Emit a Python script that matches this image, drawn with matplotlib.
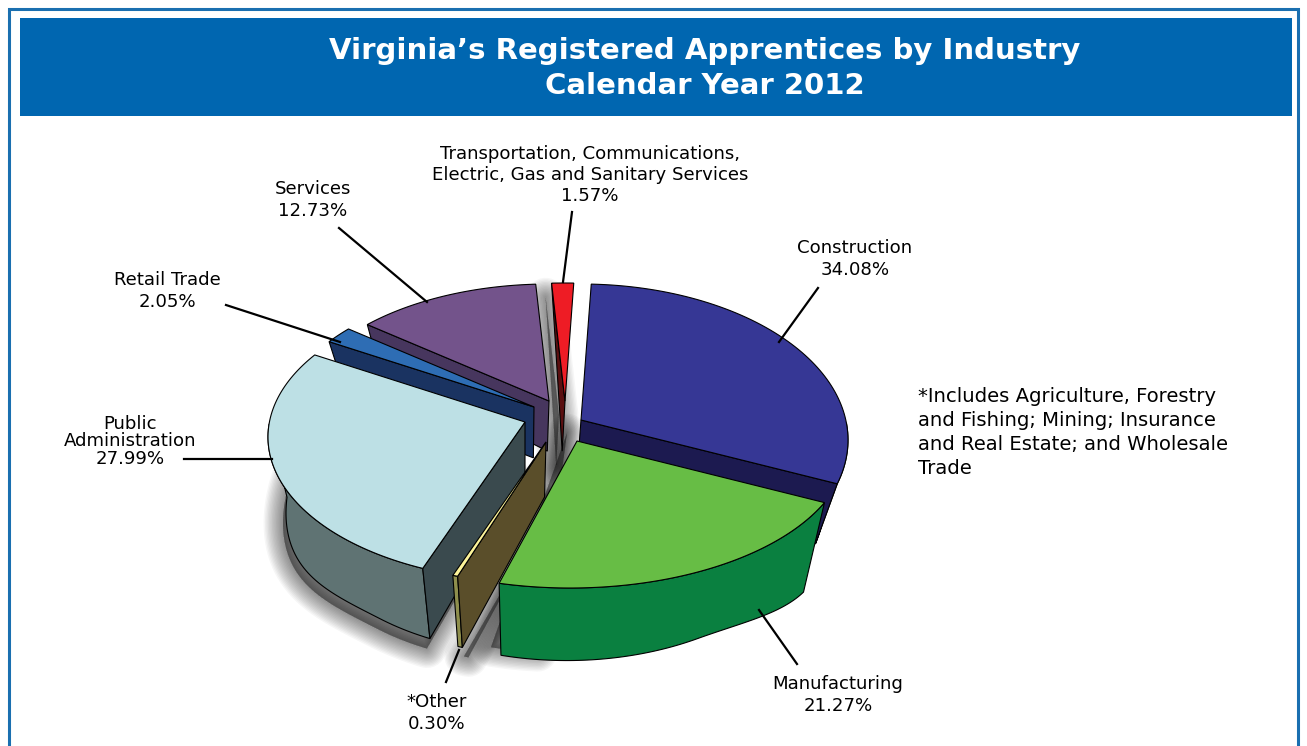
import numpy as np
import matplotlib
matplotlib.use('Agg')
import matplotlib.pyplot as plt
from matplotlib.patches import Polygon, Rectangle

industries = ['Construction', 'Manufacturing', '*Other', 'Public Administration', 'Retail Trade', 'Services',
              'Transportation, Communications,\nElectric, Gas and Sanitary Services']
shares = [34.08, 21.27, 0.30, 27.99, 2.05, 12.73, 1.57]

top_colors = ['#363795', '#67bd45', '#fdf49a', '#bde0e5', '#2e6db4', '#73538b', '#ee1c25']
side_colors = ['#1c1a50', '#0a8040', '#5a4e2a', '#3a4a4e', '#1a3361', '#47365e', '#5a0f10']
rim_colors = ['#8aa9a9', '#0a8040', '#8f8f4d', '#5f7373', '#1a3361', '#47365e', '#8a1015']

# where each exploded slice sits, relative to the pie centre (pixels)
center = (565, 420)
explode_x = [16, 12, -19, -40, -31, -16, 0]
explode_y = [0, 21, 22, 2, -13, -19, -19]
# rim ellipse of each slice: offset from its tip, then radii
ell_dx = [0, -7, 0, 5, 0, 0, 0]
ell_dy = [20, 4, 7, 15, 18, 19, 17]
ell_rx = [267, 278, 265, 262, 255, 255, 265]
ell_ry = [156, 143, 135, 144, 140, 136, 135]
flare = [0, 0.48, 0, 0.55, 0, 0, 0]
trim = [0, 3, 0, 0, 0, 0, 0]
side_edge = ['end', None, 'start', 'start', 'start', 'start', None]


def warp(theta):
    # the picture's perspective bends the angles a bit around two places
    d1 = (theta - 92 + 180) % 360 - 180
    d2 = (theta + 30 + 180) % 360 - 180
    return theta - 2.3 * np.exp(-(d1 / 25) ** 2) + 7.5 * np.exp(-(d2 / 38) ** 2)


def rim_point(i, tip, theta):
    t = np.radians(warp(theta))
    dx, dy = 265 * np.cos(t), -140 * np.sin(t)
    ax, ay = -ell_dx[i], -ell_dy[i]
    rx, ry = ell_rx[i], ell_ry[i]
    a = (dx / rx) ** 2 + (dy / ry) ** 2
    b = 2 * (ax * dx / rx ** 2 + ay * dy / ry ** 2)
    c = (ax / rx) ** 2 + (ay / ry) ** 2 - 1
    s = (-b + np.sqrt(b * b - 4 * a * c)) / (2 * a)
    return np.array([tip[0] + s * dx, tip[1] + s * dy])


def drop(i, p):
    # bottom of the slab under a point of the top face
    x, y = p
    h = 50 + (y - 400) * 0.12
    h *= 1 + flare[i] * (max(0, abs(x - 540) - 170) / 120) ** 2
    return np.array([x + (525 - x) * 0.07, y + h])


def shadow(ax, pts, dx, dy, zorder):
    for lw in range(28, 0, -2):
        ax.add_patch(Polygon(pts + np.array([dx, dy]), closed=True, fc='black', ec='black', lw=lw,
                             alpha=0.035, joinstyle='round', zorder=zorder))


fig = plt.figure(figsize=(13.07, 7.46), dpi=100)
ax = fig.add_axes([0, 0, 1, 1])
ax.set_xlim(0, 1307)
ax.set_ylim(746, 0)
ax.axis('off')

# frame and banner
ax.add_patch(Rectangle((9, 9), 1289, 760, fc='white', ec='#1a6fb0', lw=2.2))
ax.add_patch(Rectangle((20, 18), 1272, 98, fc='#0066b0', ec='none'))
ax.text(705, 51, 'Virginia\u2019s Registered Apprentices by Industry', color='white', fontsize=21,
        fontweight='bold', ha='center', va='center')
ax.text(705, 86, 'Calendar Year 2012', color='white', fontsize=21, fontweight='bold', ha='center', va='center')

edges = 90 - 3.6 * np.concatenate([[0], np.cumsum(shares)])
faces = {}
for i in range(len(shares)):
    tip = np.array([center[0] + explode_x[i], center[1] + explode_y[i]], dtype=float)
    arc = np.array([rim_point(i, tip, th) for th in np.linspace(edges[i], edges[i + 1] + trim[i], 80)])
    low = np.array([drop(i, p) for p in arc])
    faces[i] = (tip, arc, low)

# soft shadows first, cast by the underside of the slices
for i, dx, dy in [(3, -3, 10), (2, 6, 10)]:
    tip, arc, low = faces[i]
    shadow(ax, np.vstack([drop(i, tip), low]), dx, dy, 2)
# manufacturing only throws one on its left side
tip, arc, low = faces[1]
shadow(ax, np.vstack([tip, low[-12:]]), -10, -8, 2)
# transportation and services, in the gap behind the red slice
tip, arc, low = faces[6]
shadow(ax, np.array([arc[0], tip, drop(6, tip)]), -6, 14, 2)

# back to front
for z, i in enumerate([5, 4, 6, 0, 3, 2, 1]):
    tip, arc, low = faces[i]
    zo = 3 + z
    if i != 6:
        # the back half of the wall is hidden, only the visible front part is drawn
        keep = arc[:, 1] > tip[1]
        if keep.sum() > 1:
            ax.add_patch(Polygon(np.vstack([arc[keep], low[keep][::-1]]), closed=True, fc=rim_colors[i], ec='black',
                                 lw=0.8, zorder=zo))
    edge_pt = None
    if side_edge[i] == 'start':
        edge_pt = arc[0]
    elif side_edge[i] == 'end':
        edge_pt = arc[-1]
    if edge_pt is not None:
        ax.add_patch(Polygon([tip, edge_pt, drop(i, edge_pt), drop(i, tip)], closed=True, fc=side_colors[i],
                             ec='black', lw=0.8, zorder=zo))
    if i == 6:
        ax.add_patch(Polygon([arc[0], tip, drop(i, tip)], closed=True, fc=side_colors[i], ec='black', lw=0.8, zorder=zo))
    ax.add_patch(Polygon(np.vstack([tip, arc]), closed=True, fc=top_colors[i], ec='black', lw=0.8, zorder=zo))

# labels and leader lines
fs = 13.1
label_xy = [(855, 259), (838, 695), (437, 713), (130, 441), (167, 291), (313, 200), (590, 175)]
line_xy = [((779, 342), (818, 288)), ((759, 610), (797, 664)), ((459, 650), (446, 682)),
           ((184, 459), (272, 459)), ((226, 305), (340, 342)), ((339, 228), (427, 302)), ((572, 212), (563, 282))]
for i, name in enumerate(industries):
    (x0, y0), (x1, y1) = line_xy[i]
    ax.plot([x0, x1], [y0, y1], color='black', lw=1.6, zorder=20)
    x, y = label_xy[i]
    if name == 'Public Administration':
        ax.text(x, 424, 'Public', ha='center', va='center', fontsize=fs)
        ax.text(x, 441, 'Administration', ha='center', va='center', fontsize=fs)
        ax.text(x, 459, f'{shares[i]:.2f}%', ha='center', va='center', fontsize=fs)
    else:
        ax.text(x, y, f'{name}\n{shares[i]:.2f}%', ha='center', va='center', fontsize=fs, linespacing=1.22)

note = ['*Includes Agriculture, Forestry', 'and Fishing; Mining; Insurance', 'and Real Estate; and Wholesale', 'Trade']
for j, line in enumerate(note):
    ax.text(918, 397 + 24 * j, line, ha='left', va='center', fontsize=14.1)

plt.savefig('out.png', dpi=100)
plt.close()
